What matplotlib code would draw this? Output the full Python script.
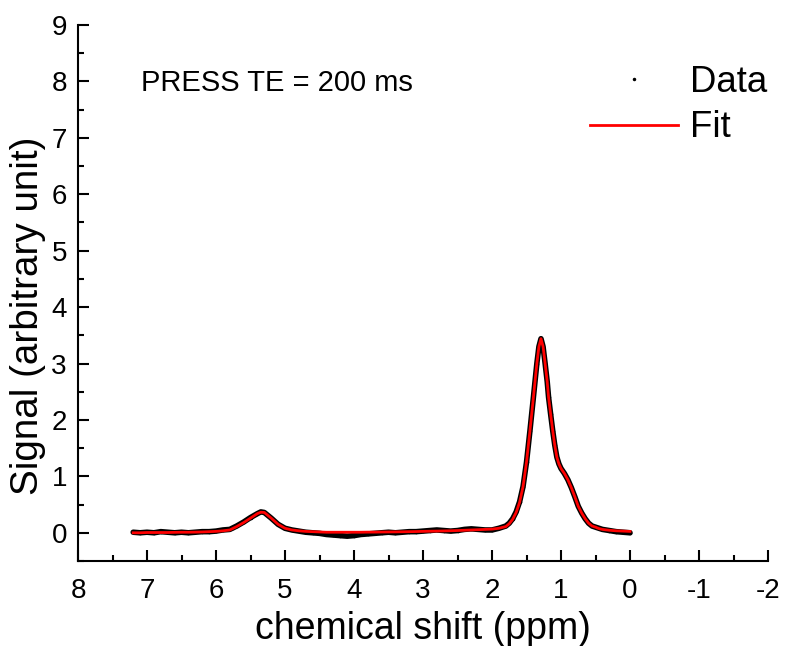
import matplotlib
matplotlib.use("Agg")
import matplotlib.pyplot as plt
from matplotlib.lines import Line2D
from matplotlib.ticker import MultipleLocator

plt.rcParams['font.family'] = ['Liberation Sans', 'DejaVu Sans']

ppm = [7.2, 7.1, 7.0, 6.9, 6.8, 6.7, 6.6, 6.5, 6.4, 6.3, 6.2, 6.1, 6.0, 5.9, 5.8,
       5.75, 5.7, 5.6, 5.5, 5.4, 5.35, 5.3, 5.2, 5.1, 5.0, 4.9, 4.8, 4.7, 4.6, 4.5,
       4.4, 4.3, 4.2, 4.1, 4.0, 3.9, 3.8, 3.7, 3.6, 3.5, 3.4, 3.3, 3.2, 3.1, 3.0,
       2.9, 2.8, 2.7, 2.6, 2.5, 2.4, 2.3, 2.2, 2.1, 2.0, 1.9, 1.8, 1.75, 1.7, 1.65,
       1.6, 1.55, 1.5, 1.45, 1.4, 1.35, 1.32, 1.29, 1.26, 1.23, 1.2, 1.18, 1.15,
       1.12, 1.09, 1.06, 1.03, 1.0, 0.95, 0.9, 0.85, 0.8, 0.75, 0.7, 0.65, 0.6,
       0.55, 0.5, 0.45, 0.4, 0.3, 0.2, 0.1, 0.0]

data_signal = [0.01, 0.00, 0.01, 0.0, 0.02, 0.01, 0.0, 0.01, 0.0, 0.01, 0.02, 0.02, 0.03,
               0.05, 0.06, 0.09, 0.12, 0.19, 0.27, 0.34, 0.37, 0.36, 0.26, 0.15, 0.08,
               0.05, 0.03, 0.01, 0.0, -0.01, -0.03, -0.04, -0.05, -0.06, -0.05, -0.03,
               -0.02, -0.01, 0.0, 0.01, 0.0, 0.01, 0.02, 0.02, 0.03, 0.04, 0.05, 0.04,
               0.03, 0.04, 0.06, 0.07, 0.06, 0.05, 0.05, 0.08, 0.12, 0.17, 0.25, 0.37,
               0.55, 0.82, 1.25, 1.81, 2.40, 3.00, 3.30, 3.44, 3.30, 3.00, 2.68, 2.40,
               2.10, 1.81, 1.55, 1.34, 1.22, 1.14, 1.05, 0.94, 0.80, 0.64, 0.47, 0.35,
               0.25, 0.17, 0.12, 0.10, 0.08, 0.06, 0.04, 0.02, 0.01, 0.0]

fit_signal = [0.0, 0.0, 0.005, 0.005, 0.005, 0.005, 0.008, 0.01, 0.01, 0.012, 0.015, 0.02,
              0.025, 0.035, 0.05, 0.08, 0.11, 0.18, 0.26, 0.34, 0.365, 0.36, 0.26, 0.15,
              0.08, 0.05, 0.035, 0.025, 0.02, 0.015, 0.01, 0.01, 0.01, 0.01, 0.01, 0.01,
              0.012, 0.012, 0.014, 0.015, 0.016, 0.018, 0.02, 0.022, 0.025, 0.028, 0.03,
              0.033, 0.036, 0.04, 0.045, 0.05, 0.055, 0.06, 0.065, 0.08, 0.11, 0.16, 0.24,
              0.36, 0.54, 0.82, 1.25, 1.81, 2.40, 3.00, 3.30, 3.44, 3.30, 3.00, 2.68, 2.40,
              2.10, 1.81, 1.55, 1.34, 1.22, 1.14, 1.05, 0.94, 0.80, 0.64, 0.47, 0.35, 0.25,
              0.17, 0.12, 0.10, 0.075, 0.06, 0.045, 0.035, 0.03, 0.025]

x_ticks = [8, 7, 6, 5, 4, 3, 2, 1, 0, -1, -2]
x_tick_labels = ['8', '7', '6', '5', '4', '3', '2', '1', '0', '-1', '-2']
y_ticks = [0, 1, 2, 3, 4, 5, 6, 7, 8, 9]

fig = plt.figure(figsize=(7.85, 6.46), dpi=100)
ax = fig.add_axes([78/785, 1-561/646, (768-78)/785, (561-25)/646])

ax.plot(ppm, data_signal, color='black', lw=4, solid_capstyle='round', zorder=2)
ax.plot(ppm, data_signal, color='black', ls='none', marker='.', ms=3, zorder=2)
ax.plot(ppm, fit_signal, color='#ff0000', lw=2, zorder=3)

ax.set_xlim(8, -2)
ax.set_ylim(-0.5, 9)
ax.set_xticks(x_ticks)
ax.set_xticklabels(x_tick_labels)
ax.set_yticks(y_ticks)
ax.xaxis.set_minor_locator(MultipleLocator(0.5))
ax.yaxis.set_minor_locator(MultipleLocator(0.5))

for s in ['top', 'right']:
    ax.spines[s].set_visible(False)
for s in ['left', 'bottom']:
    ax.spines[s].set_linewidth(1.5)

ax.tick_params(which='major', direction='in', length=8, width=1.5, labelsize=20)
ax.tick_params(axis='x', which='major', pad=12)
ax.tick_params(axis='y', which='major', pad=8)
ax.tick_params(which='minor', direction='in', length=4.5, width=1.5)

ax.set_xlabel('chemical shift (ppm)', fontsize=27, labelpad=5)
ax.set_ylabel('Signal (arbitrary unit)', fontsize=27.8)
ax.yaxis.set_label_coords(-0.046, 0.457)

ax.text(0.092, 0.892, 'PRESS TE = 200 ms', transform=ax.transAxes, fontsize=21,
        va='center', ha='left')

h_data = Line2D([], [], color='black', marker='.', ms=3, ls='none')
h_fit = Line2D([], [], color='#ff0000', lw=2)
leg = ax.legend([h_data, h_fit], ['Data', 'Fit'], loc='upper right',
                bbox_to_anchor=(0.999, 0.925), frameon=False, fontsize=26.4,
                handlelength=2.4, handletextpad=0.33, labelspacing=0.28,
                borderpad=0, borderaxespad=0)

fig.savefig('out.png', dpi=100)
